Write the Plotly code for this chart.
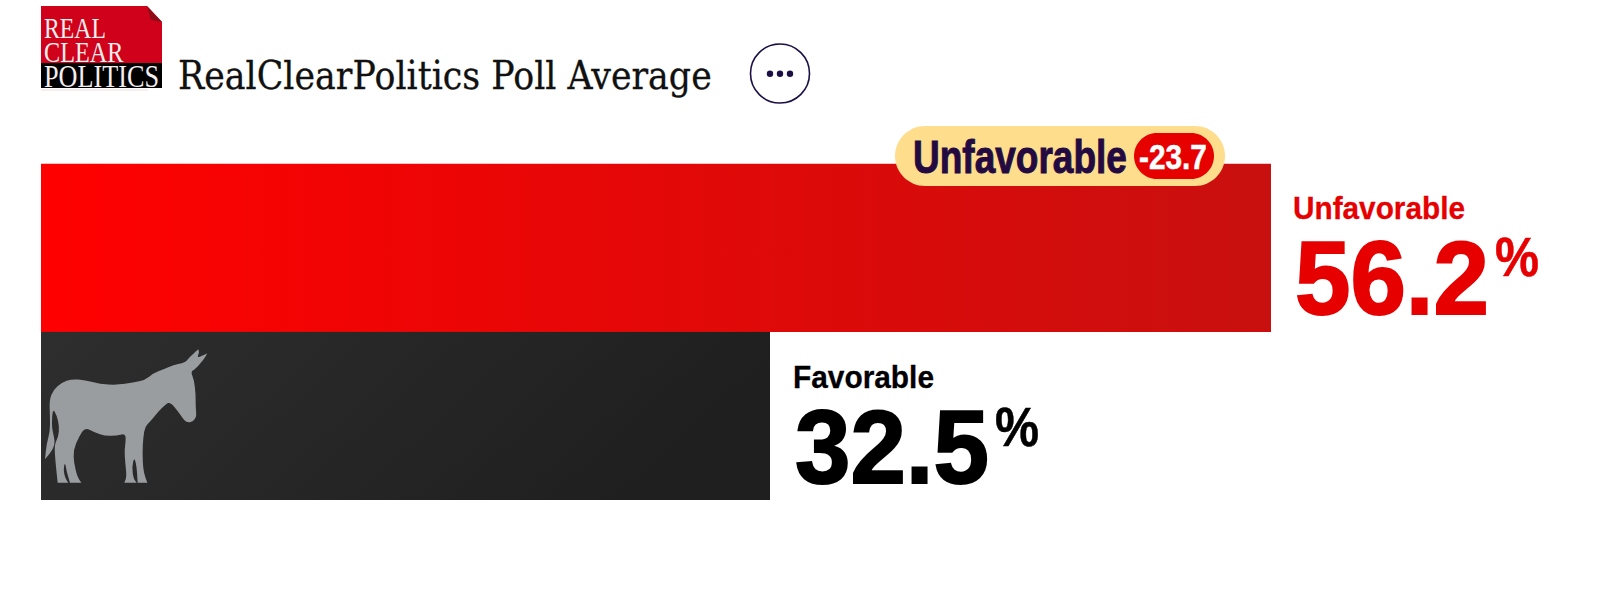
import base64
import json
import plotly.graph_objects as go

# ---- data ----
categories = ["Favorable", "Unfavorable"]
values = [32.5, 56.2]
spread_label = "Unfavorable"
spread_value = "-23.7"
title_text = "RealClearPolitics Poll Average"
logo_lines = ["REAL", "CLEAR", "POLITICS"]

W, H = 1600, 601
PX_PER_UNIT = (1271 - 770) / (values[1] - values[0])
X_ZERO_PX = 770 - values[0] * PX_PER_UNIT
X_MIN = -X_ZERO_PX / PX_PER_UNIT
X_MAX = (W - X_ZERO_PX) / PX_PER_UNIT
BASE = (41 - X_ZERO_PX) / PX_PER_UNIT
TOP, BOTTOM = 163.5, 500


def px(x):
    return x / W


def py(y):
    return 1 - y / H


def gradient(stops, x2=1, y2=0):
    s = "".join(f'<stop offset="{o}" stop-color="{c}"/>' for o, c in stops)
    svg = (
        '<svg xmlns="http://www.w3.org/2000/svg" width="400" height="100" viewBox="0 0 400 100" '
        'preserveAspectRatio="none"><defs>'
        f'<linearGradient id="g" x1="0" y1="0" x2="{x2}" y2="{y2}">{s}</linearGradient></defs>'
        '<rect width="400" height="100" fill="url(#g)"/></svg>'
    )
    return "data:image/svg+xml;base64," + base64.b64encode(svg.encode()).decode()


fig = go.Figure(
    go.Bar(
        y=categories,
        x=[v - BASE for v in values],
        base=BASE,
        orientation="h",
        marker=dict(color=["#252525", "#e60505"], line=dict(width=0)),
        hoverinfo="skip",
    )
)

half = py(TOP) - py((TOP + BOTTOM) / 2)
images = [
    dict(source=gradient([(0, "#ff0000"), (1, "#c8100f")]), xref="x", yref="paper",
         x=BASE, y=py(TOP), sizex=values[1] - BASE, sizey=half,
         xanchor="left", yanchor="top", sizing="stretch", layer="above"),
    dict(source=gradient([(0, "#2e2e2e"), (1, "#1f1f1f")], x2=1, y2=0.25), xref="x", yref="paper",
         x=BASE, y=py((TOP + BOTTOM) / 2), sizex=values[0] - BASE, sizey=half,
         xanchor="left", yanchor="top", sizing="stretch", layer="above"),
]

# donkey silhouette (pixel outline); doubled points keep hooves and ear tips crisp
donkey_z = [(345,150),(370,130),(400,118),(430,105),(465,98),(480,80),(505,58),(505,58),(508,68),(500,85),(532,70),(532,70),
    (520,90),(495,118),(482,125),(492,150),(497,190),(497,235),(500,258),(490,275),(470,278),(458,265),
    (445,245),(420,215),(405,225),(385,245),(360,275),(345,290),(340,320),(337,370),(340,420),(347,445),
    (352,458),(352,458),(323,458),(323,458),(322,445),(320,410),(313,380),(306,410),(310,445),(320,458),(320,458),(283,458),(283,458),(290,440),
    (286,400),(283,360),(290,310),(260,317),(225,318),(195,308),(165,292),(147,320),(130,360),(132,400),
    (142,440),(154,458),(154,458),(120,458),(120,458),(110,425),(105,395),(100,420),(106,445),(115,458),(115,458),(83,458),(83,458),(80,430),
    (76,390),(73,345),(85,320),(88,290),(80,255),(68,235),(65,290),(72,320),(75,345),(60,370),(45,388),(45,388),
    (50,340),(60,305),(60,260),(58,210),(70,180),(95,158),(125,147),(165,150),(210,162),(260,165),(310,158)]


def smooth(points):
    """Closed outline, corners softened with quadratic curves through the edge midpoints."""
    p = [(px(30 + a / 3), py(330 + b / 3)) for a, b in points]
    n = len(p)
    mid = lambda a, b: ((a[0] + b[0]) / 2, (a[1] + b[1]) / 2)
    s = mid(p[-1], p[0])
    d = f"M{s[0]:.5f},{s[1]:.5f}"
    for i in range(n):
        m = mid(p[i], p[(i + 1) % n])
        d += f"Q{p[i][0]:.5f},{p[i][1]:.5f} {m[0]:.5f},{m[1]:.5f}"
    return d + "Z"


def poly(points):
    return "M" + "L".join(f"{px(a):.5f},{py(b):.5f}" for a, b in points) + "Z"


def rrect(x0, y0, x1, y1, fill, r=None):
    r = r if r is not None else (y1 - y0) / 2
    k = 0.55 * r
    d = (f"M{px(x0+r)},{py(y0)}L{px(x1-r)},{py(y0)}"
         f"C{px(x1-r+k)},{py(y0)} {px(x1)},{py(y0+r-k)} {px(x1)},{py(y0+r)}"
         f"L{px(x1)},{py(y1-r)}C{px(x1)},{py(y1-r+k)} {px(x1-r+k)},{py(y1)} {px(x1-r)},{py(y1)}"
         f"L{px(x0+r)},{py(y1)}C{px(x0+r-k)},{py(y1)} {px(x0)},{py(y1-r+k)} {px(x0)},{py(y1-r)}"
         f"L{px(x0)},{py(y0+r)}C{px(x0)},{py(y0+r-k)} {px(x0+r-k)},{py(y0)} {px(x0+r)},{py(y0)}Z")
    return dict(type="path", xref="paper", yref="paper", path=d, fillcolor=fill,
                line=dict(width=0), layer="above")


def poly_shape(points, fill):
    return dict(type="path", xref="paper", yref="paper", path=poly(points), fillcolor=fill,
                line=dict(width=0), layer="above")


shapes = [
    dict(type="path", xref="paper", yref="paper", path=smooth(donkey_z), fillcolor="#9a9da0",
         line=dict(width=0), layer="above"),
    # logo
    poly_shape([(41, 6), (147, 6), (162, 22), (162, 64), (41, 64)], "#d0021b"),
    poly_shape([(147, 6), (162, 22), (151, 20)], "#8e0b18"),
    poly_shape([(41, 63), (162, 63), (162, 88), (41, 88)], "#000000"),
    poly_shape([(41, 89.5), (148, 89.5), (148, 90.5), (41, 90.5)], "#f3dcdc"),
    # pill
    rrect(895, 126, 1225, 186, "#fedd8d"),
    rrect(1134, 133, 1214, 179, "#e60000"),
    # menu button
    dict(type="circle", xref="paper", yref="paper", x0=px(750.5), x1=px(809.5), y0=py(44), y1=py(103),
         fillcolor="#ffffff", line=dict(color="#1c0f45", width=1.6)),
]
for cx in (770, 780, 790):
    shapes.append(dict(type="circle", xref="paper", yref="paper", x0=px(cx - 3.2), x1=px(cx + 3.2),
                       y0=py(70.5), y1=py(76.9), fillcolor="#1c0f45", line=dict(width=0)))

# text: each entry also says how wide the glyphs must end up (the source faces are condensed)
# and how much extra weight they carry
SANS = "Liberation Sans"
SERIF = "Liberation Serif"
annotations = []
widths = []
strokes = []


def label(x, y, text, font, size, color, width, bold=False, stroke=0):
    annotations.append(dict(xref="paper", yref="paper", x=px(x), y=py(y),
                            text=f"<b>{text}</b>" if bold else text,
                            showarrow=False, xanchor="left", yanchor="middle", align="left",
                            font=dict(family=font, size=size, color=color), borderpad=0, borderwidth=0))
    widths.append(width)
    strokes.append([stroke, color])


label(178, 75, title_text, "DejaVu Serif", 39, "#111111", 534, stroke=0.3)
label(44, 28, logo_lines[0], SERIF, 29, "#f4eeee", 62)
label(44, 52, logo_lines[1], SERIF, 29, "#f4eeee", 80)
label(44, 76, logo_lines[2], SERIF, 31, "#f4eeee", 115)
label(913, 156, spread_label, SANS, 47, "#230a41", 214, bold=True, stroke=1)
label(1139, 156, spread_value, SANS, 35, "#ffffff", 68, bold=True, stroke=0.5)
label(1293, 208, categories[1], SANS, 32, "#e60000", 172, bold=True, stroke=0.3)
label(1295, 278, f"{values[1]}", SANS, 103, "#e60000", 194, bold=True, stroke=2)
label(1495, 257, "%", SANS, 55, "#e60000", 44, bold=True, stroke=0.5)
label(793, 377, categories[0], SANS, 32, "#000000", 141, bold=True, stroke=0.3)
label(795, 447, f"{values[0]}", SANS, 103, "#000000", 194, bold=True, stroke=2)
label(995, 427, "%", SANS, 55, "#000000", 44, bold=True, stroke=0.5)

fig.update_layout(
    width=W, height=H, margin=dict(l=0, r=0, t=0, b=0), paper_bgcolor="#ffffff", plot_bgcolor="#ffffff",
    showlegend=False, bargap=0,
    xaxis=dict(range=[X_MIN, X_MAX], domain=[0, 1], visible=False, fixedrange=True),
    yaxis=dict(type="category", categoryorder="array", categoryarray=categories,
               domain=[py(BOTTOM), py(TOP)], visible=False, fixedrange=True),
    shapes=shapes, annotations=annotations, images=images,
)

post = """
document.body.style.margin='0';document.body.style.overflow='hidden';
var widths = %s, strokes = %s;
document.querySelectorAll('.annotation-text').forEach(function(el, i){
  var b = el.getBBox();
  var s = widths[i] / b.width;
  el.setAttribute('transform', 'translate(' + b.x + ',0) scale(' + s + ',1) translate(' + (-b.x) + ',0)');
  if (strokes[i][0] > 0) {
    el.style.stroke = strokes[i][1];
    el.style.strokeWidth = strokes[i][0] + 'px';
  }
});
""" % (json.dumps(widths), json.dumps(strokes))

fig.write_html("out.html", config={"displayModeBar": False}, post_script=post)
